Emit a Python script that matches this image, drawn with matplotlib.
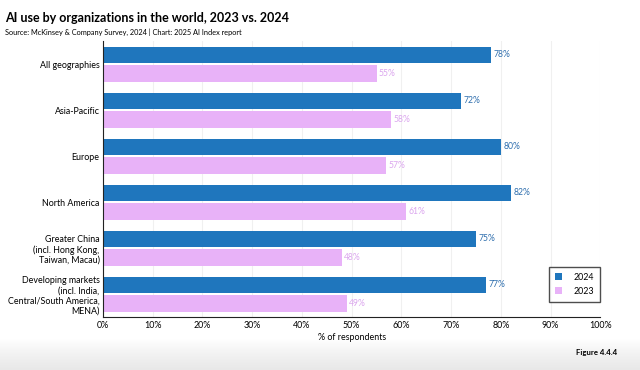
import matplotlib
matplotlib.use('Agg')
import matplotlib.pyplot as plt
from matplotlib.colors import LinearSegmentedColormap
import numpy as np

# Data
regions = ['All geographies', 'Asia-Pacific', 'Europe', 'North America',
           'Greater China\n(incl. Hong Kong,\nTaiwan, Macau)',
           'Developing markets\n(incl. India,\nCentral/South America,\nMENA)']
use_2024 = [78, 72, 80, 82, 75, 77]
use_2023 = [55, 58, 57, 61, 48, 49]
xticks = [0, 10, 20, 30, 40, 50, 60, 70, 80, 90, 100]

blue = '#1f76bd'
pink = '#e8b2f8'
blue_txt = '#2f6fae'
pink_txt = '#dba6ee'

plt.rcParams['font.family'] = ['Lato', 'DejaVu Sans']

fig = plt.figure(figsize=(6.4, 3.7), dpi=100)
ax = fig.add_axes([0.161, 0.143, 0.777, 0.746])

y = np.arange(len(regions))
h = 0.36
ax.barh(y - h / 2 - 0.02, use_2024, height=h, color=blue, label='2024', zorder=2)
ax.barh(y + h / 2 + 0.02, use_2023, height=h, color=pink, label='2023', zorder=2)

for yi, v in zip(y, use_2024):
    ax.text(v + 0.5, yi - h / 2 - 0.02, f'{v}%', va='center', ha='left',
            fontsize=6.2, color=blue_txt)
for yi, v in zip(y, use_2023):
    ax.text(v + 0.5, yi + h / 2 + 0.02, f'{v}%', va='center', ha='left',
            fontsize=6.2, color=pink_txt)

ax.set_ylim(len(regions) - 0.5, -0.5)
ax.set_xlim(0, 100)
ax.set_yticks(y)
ax.set_yticklabels(regions, fontsize=6.4, ha='right', multialignment='right')
ax.set_xticks(xticks)
ax.set_xticklabels([f'{t}%' for t in xticks], fontsize=6.4)
ax.tick_params(axis='y', length=0, pad=2.5)
ax.tick_params(axis='x', length=0, pad=3)
ax.set_xlabel('% of respondents', fontsize=6.4, labelpad=2)

ax.grid(axis='x', color='#f0f0f0', linewidth=0.8, zorder=0)
for s in ['top', 'right']:
    ax.spines[s].set_visible(False)
ax.spines['left'].set_color('#222222')
ax.spines['bottom'].set_color('#222222')

leg = ax.legend(loc='lower right', bbox_to_anchor=(1.0, 0.055), fontsize=6.4,
                frameon=True, fancybox=False, handlelength=0.8, handleheight=0.8,
                borderpad=0.7, labelspacing=0.55, handletextpad=1.3,
                borderaxespad=0)
leg.get_frame().set_edgecolor('#222222')
leg.get_frame().set_linewidth(1.0)

fig.text(0.008, 0.951, 'AI use by organizations in the world, 2023 vs. 2024',
         fontsize=9, fontweight='bold', va='center')
fig.text(0.008, 0.912, 'Source: McKinsey & Company Survey, 2024 | Chart: 2025 AI Index report',
         fontsize=5.3, va='center')

# soft grey fade at the bottom of the page (white on top, grey at the edge)
fade = LinearSegmentedColormap.from_list('fade', ['#ffffff', '#f2f2f2', '#e8e8e8'])
grad = np.linspace(0, 1, 60).reshape(-1, 1)
bg = fig.add_axes([0, 0, 1, 0.085], zorder=-1)
bg.imshow(grad, aspect='auto', cmap=fade, vmin=0, vmax=1, extent=[0, 1, 0, 1])
bg.axis('off')
fig.text(0.964, 0.046, 'Figure 4.4.4', fontsize=5.6, fontweight='bold',
         ha='right', va='center')

fig.savefig('out.png', dpi=100)
